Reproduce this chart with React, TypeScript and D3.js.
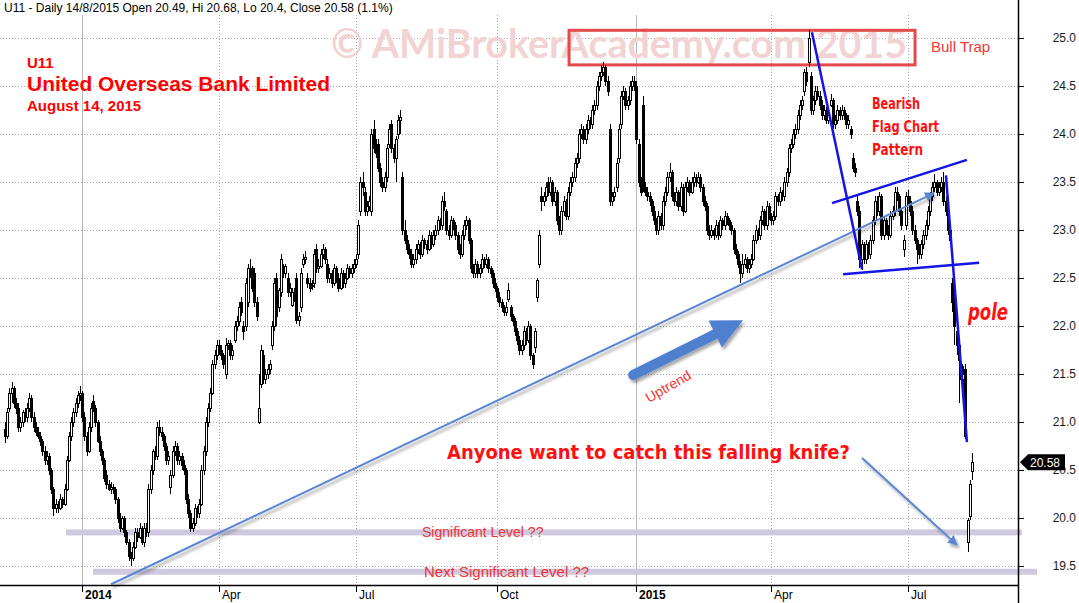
import React from 'react';
import * as d3 from 'd3';

type Bar = [number, number, number, number]; // open, high, low, close

const bars_q4_2013: Bar[] = [
  [20.93,21.0,20.78,20.85],[20.85,21.15,20.82,21.1],[21.15,21.35,21.1,21.3],[21.3,21.42,21.2,21.35],[21.35,21.38,21.15,21.2],
  [21.2,21.25,21.08,21.15],[21.15,21.2,20.9,20.95],[20.95,21.05,20.9,21.0],[21.0,21.12,20.95,21.1],[21.1,21.15,21.0,21.05],
  [21.05,21.2,21.0,21.15],[21.15,21.3,21.1,21.25],[21.25,21.28,21.0,21.05],[21.05,21.1,20.9,20.95],[20.95,21.0,20.85,20.9],
  [20.9,20.95,20.82,20.85],[20.85,20.9,20.75,20.8],[20.8,20.82,20.65,20.7],[20.7,20.75,20.55,20.6],[20.6,20.7,20.55,20.65],
  [20.65,20.68,20.45,20.5],[20.5,20.52,20.25,20.3],[20.3,20.32,20.02,20.1],[20.1,20.2,20.05,20.15],[20.15,20.18,20.05,20.1],
  [20.1,20.25,20.08,20.2],[20.2,20.22,20.1,20.15],[20.15,20.35,20.12,20.3],[20.3,20.65,20.28,20.6],[20.6,20.9,20.58,20.85],
  [20.85,21.05,20.8,21.0],[21.0,21.15,20.95,21.1],[21.1,21.25,21.05,21.2],[21.2,21.32,21.15,21.28],[21.28,21.38,21.22,21.3],
];
const bars_q1_2014: Bar[] = [
  [21.3,21.32,21.0,21.05],[21.05,21.1,20.8,20.85],[20.85,20.9,20.65,20.7],[20.7,21.0,20.68,20.95],[20.95,21.2,20.9,21.15],
  [21.22,21.28,21.1,21.15],[21.15,21.18,20.95,21.0],[21.0,21.02,20.78,20.8],[20.8,20.85,20.65,20.7],[20.7,20.72,20.55,20.6],
  [20.6,20.62,20.38,20.42],[20.45,20.5,20.3,20.35],[20.35,20.4,20.28,20.3],[20.3,20.38,20.25,20.32],[20.32,20.35,20.25,20.3],
  [20.3,20.32,20.15,20.2],[20.2,20.22,19.95,20.0],[20.0,20.05,19.85,19.9],[19.9,20.02,19.88,20.0],[20.0,20.02,19.8,19.85],
  [19.85,19.88,19.72,19.75],[19.75,19.78,19.55,19.6],[19.6,19.65,19.5,19.58],[19.58,19.75,19.55,19.7],[19.7,19.9,19.68,19.85],
  [19.85,19.9,19.75,19.8],[19.8,19.95,19.78,19.9],[19.9,19.92,19.72,19.75],[19.75,19.95,19.7,19.9],[19.9,19.95,19.8,19.85],
  [19.85,20.35,19.8,20.3],[20.3,20.55,20.25,20.5],[20.5,20.72,20.45,20.7],[20.7,20.75,20.6,20.65],[20.65,21.0,20.6,20.95],
  [20.95,21.02,20.85,20.9],[20.9,20.95,20.8,20.85],[20.85,20.88,20.7,20.75],[20.75,20.78,20.55,20.6],[20.6,20.7,20.55,20.65],
  [20.32,20.5,20.25,20.45],[20.45,20.75,20.42,20.7],[20.7,20.8,20.65,20.75],[20.75,20.78,20.55,20.6],[20.6,20.7,20.55,20.65],
  [20.65,20.68,20.5,20.55],[20.55,20.6,20.45,20.5],[20.5,20.52,20.15,20.2],[20.2,20.25,20.0,20.05],[20.05,20.08,19.85,19.9],
  [19.9,20.0,19.85,19.95],[19.95,20.15,19.92,20.1],[20.1,20.12,20.0,20.05],[20.05,20.2,20.0,20.15],[20.15,20.55,20.12,20.5],
  [20.5,20.75,20.45,20.7],[20.7,21.05,20.65,21.0],[21.0,21.2,20.95,21.15],[21.15,21.35,21.1,21.3],[21.3,21.65,21.28,21.6],
  [21.6,21.75,21.55,21.7],[21.7,21.85,21.65,21.8],
];
const bars_q2_2014: Bar[] = [
  [21.8,21.85,21.7,21.75],[21.75,21.8,21.65,21.7],[21.7,21.72,21.55,21.6],[21.5,21.88,21.45,21.8],[21.8,21.85,21.75,21.82],
  [21.82,21.85,21.65,21.7],[21.7,21.8,21.65,21.75],[21.85,22.05,21.82,22.0],[22.0,22.1,21.95,22.05],[22.05,22.25,22.0,22.2],
  [22.25,22.3,22.1,22.15],[22.0,22.05,21.85,21.95],[22.0,22.5,21.95,22.45],[22.25,22.65,22.2,22.6],[22.6,22.7,22.5,22.6],
  [22.6,22.62,22.35,22.4],[22.55,22.6,22.2,22.25],[22.25,22.3,22.05,22.1],[21.0,21.5,20.98,21.15],[21.4,21.8,21.35,21.75],
  [21.7,21.75,21.4,21.45],[21.45,21.55,21.4,21.5],[21.5,21.6,21.45,21.55],[21.55,21.65,21.5,21.6],[21.8,22.05,21.75,22.0],
  [22.0,22.5,21.95,22.45],[22.5,22.55,22.0,22.1],[22.2,22.4,22.15,22.37],[22.35,22.75,22.3,22.7],[22.6,22.65,22.5,22.55],
  [22.55,22.65,22.5,22.62],[22.5,22.55,22.3,22.35],[22.35,22.45,22.3,22.4],[22.22,22.4,22.2,22.35],[22.35,22.4,22.25,22.3],
  [22.5,22.55,22.02,22.06],[22.06,22.15,22.0,22.1],[22.2,22.6,22.15,22.55],[22.65,22.75,22.6,22.7],[22.7,22.78,22.65,22.72],
  [22.5,22.55,22.4,22.45],[22.45,22.5,22.35,22.4],[22.42,22.48,22.38,22.43],[22.45,22.8,22.4,22.75],[22.8,22.85,22.55,22.6],
  [22.6,22.7,22.55,22.62],[22.62,22.8,22.6,22.75],[22.75,22.85,22.7,22.8],[22.8,22.82,22.65,22.7],[22.65,22.7,22.45,22.5],
  [22.5,22.6,22.45,22.55],[22.55,22.58,22.4,22.45],[22.45,22.65,22.42,22.6],[22.6,22.62,22.45,22.5],[22.5,22.55,22.35,22.4],
  [22.4,22.6,22.38,22.55],[22.55,22.58,22.4,22.45],[22.45,22.55,22.4,22.5],[22.5,22.65,22.48,22.6],[22.6,22.62,22.5,22.55],
  [22.55,22.65,22.5,22.6],[22.6,22.7,22.55,22.65],
];
const bars_q3_2014: Bar[] = [
  [22.65,22.75,22.6,22.7],[22.75,23.1,22.7,23.05],[23.2,23.55,23.15,23.5],[23.5,23.6,23.35,23.45],[23.4,23.45,23.15,23.2],
  [23.2,23.3,23.15,23.25],[23.25,23.35,23.2,23.3],[23.2,24.05,23.15,24.0],[24.05,24.15,23.8,23.85],[23.85,23.95,23.75,23.8],
  [23.9,23.95,23.6,23.65],[23.65,23.7,23.45,23.5],[23.5,23.55,23.4,23.45],[23.45,23.6,23.4,23.55],[23.55,23.9,23.5,23.85],
  [23.9,24.1,23.85,24.05],[24.1,24.15,23.8,23.85],[23.85,23.9,23.7,23.75],[23.75,23.98,23.5,23.95],[24.0,24.2,23.95,24.15],
  [24.15,24.25,24.0,24.18],[23.55,23.6,22.95,23.0],[23.0,23.1,22.85,22.9],[22.9,22.95,22.75,22.8],[22.8,22.85,22.7,22.75],
  [22.75,22.8,22.6,22.65],[22.65,22.75,22.6,22.7],[22.7,22.85,22.65,22.8],[22.8,22.9,22.75,22.85],[22.85,22.88,22.7,22.75],
  [22.75,22.95,22.72,22.9],[22.9,22.92,22.8,22.85],[22.85,22.9,22.75,22.8],[22.8,23.0,22.78,22.95],[22.95,22.98,22.8,22.85],
  [22.85,23.0,22.82,22.95],[22.95,23.05,22.9,23.0],[23.0,23.15,22.95,23.1],[23.1,23.12,23.0,23.05],[23.05,23.35,23.0,23.3],
  [23.3,23.4,23.2,23.25],[23.2,23.22,22.95,23.0],[23.0,23.05,22.9,22.95],[22.95,23.15,22.92,23.1],[23.1,23.12,23.0,23.05],
  [23.05,23.08,22.9,22.95],[22.95,22.98,22.75,22.8],[22.8,22.85,22.7,22.75],[22.75,23.0,22.72,22.95],[22.95,23.1,22.9,23.05],
  [23.05,23.15,23.0,23.1],[23.1,23.12,22.85,22.9],[22.9,22.92,22.55,22.6],[22.6,22.65,22.5,22.55],[22.55,22.7,22.5,22.65],
  [22.65,22.68,22.5,22.55],[22.55,22.65,22.5,22.6],[22.6,22.75,22.55,22.7],[22.7,22.72,22.6,22.65],[22.65,22.75,22.6,22.7],
  [22.7,22.72,22.55,22.6],[22.6,22.62,22.5,22.55],[22.55,22.58,22.4,22.45],[22.45,22.5,22.35,22.4],
];
const bars_q4_2014: Bar[] = [
  [22.4,22.42,22.25,22.3],[22.3,22.35,22.2,22.25],[22.25,22.28,22.15,22.2],[22.2,22.22,22.1,22.15],[22.15,22.25,22.1,22.2],
  [22.28,22.45,22.25,22.38],[22.2,22.22,22.05,22.1],[22.1,22.12,22.0,22.05],[22.05,22.08,21.9,21.95],[21.95,21.98,21.8,21.85],
  [21.85,21.9,21.7,21.75],[21.75,21.85,21.7,21.8],[21.8,22.0,21.75,21.95],[21.95,21.98,21.8,21.85],[21.85,22.05,21.82,22.0],
  [22.0,22.02,21.65,21.7],[21.7,21.72,21.55,21.6],[21.78,21.98,21.72,21.95],[22.3,22.5,22.25,22.48],[22.65,23.0,22.6,22.95],
  [23.35,23.45,23.2,23.3],[23.3,23.4,23.25,23.35],[23.35,23.5,23.3,23.45],[23.5,23.55,23.35,23.4],[23.4,23.55,23.35,23.5],
  [23.5,23.52,23.25,23.3],[23.3,23.45,23.25,23.4],[23.4,23.42,23.05,23.1],[23.1,23.15,22.95,23.0],[23.0,23.25,22.95,23.2],
  [23.2,23.35,23.15,23.3],[23.3,23.32,23.1,23.15],[23.15,23.45,23.1,23.4],[23.4,23.55,23.35,23.5],[23.5,23.6,23.45,23.55],
  [23.55,23.75,23.5,23.7],[23.7,23.8,23.65,23.75],[23.75,24.05,23.7,24.0],[24.0,24.1,23.95,24.05],[24.05,24.08,23.9,23.95],
  [23.95,24.1,23.9,24.05],[24.05,24.2,24.0,24.15],[24.15,24.18,24.05,24.1],[24.1,24.3,24.05,24.25],[24.25,24.35,24.2,24.3],
  [24.3,24.55,24.25,24.5],[24.5,24.65,24.45,24.6],[24.6,24.72,24.55,24.65],[24.65,24.75,24.6,24.7],[24.7,24.72,24.5,24.55],
  [24.55,24.6,24.4,24.45],[24.05,24.1,23.25,23.3],[23.3,23.4,23.25,23.35],[23.35,23.45,23.3,23.4],[23.45,23.75,23.4,23.7],
  [23.75,24.1,23.7,24.05],[24.1,24.45,24.05,24.4],[24.4,24.5,24.35,24.45],[24.45,24.48,24.25,24.3],[24.3,24.4,24.25,24.35],
  [24.35,24.55,24.3,24.5],[24.5,24.6,24.45,24.55],[24.55,24.6,24.45,24.5],
];
const bars_q1_2015: Bar[] = [
  [24.5,24.55,23.9,23.95],[23.9,23.95,23.45,23.5],[23.5,23.55,23.35,23.4],[24.3,24.4,23.4,23.45],[23.45,23.5,23.35,23.4],
  [23.4,23.45,23.3,23.35],[23.35,23.4,23.25,23.3],[23.3,23.32,23.15,23.2],[23.2,23.25,23.05,23.1],[23.1,23.12,22.95,23.0],
  [23.0,23.2,22.95,23.15],[23.15,23.18,23.0,23.05],[23.05,23.35,23.0,23.3],[23.3,23.45,23.25,23.4],[23.4,23.6,23.35,23.55],
  [23.55,23.7,23.5,23.6],[23.6,23.62,23.3,23.35],[23.35,23.4,23.25,23.3],[23.3,23.45,23.25,23.4],[23.4,23.42,23.2,23.25],
  [23.25,23.5,23.2,23.45],[23.45,23.48,23.15,23.2],[23.2,23.5,23.18,23.45],[23.45,23.55,23.4,23.5],[23.5,23.52,23.35,23.4],
  [23.4,23.55,23.38,23.5],[23.5,23.6,23.45,23.55],[23.55,23.58,23.45,23.5],[23.5,23.6,23.48,23.55],[23.55,23.58,23.4,23.45],
  [23.45,23.48,23.25,23.3],[23.3,23.35,23.2,23.25],[23.25,23.28,22.95,23.0],[23.0,23.05,22.9,22.95],[22.95,23.05,22.92,23.0],
  [23.0,23.02,22.9,22.95],[22.95,23.1,22.92,23.05],[23.05,23.08,22.9,22.95],[22.95,23.15,22.92,23.1],[23.1,23.12,23.0,23.05],
  [23.05,23.2,23.0,23.15],[23.15,23.18,23.05,23.1],[23.1,23.12,23.0,23.05],[23.05,23.08,22.95,23.0],[23.0,23.02,22.75,22.8],
  [22.8,22.85,22.7,22.75],[22.75,22.78,22.6,22.65],[22.65,22.68,22.45,22.55],[22.55,22.75,22.5,22.65],[22.65,22.75,22.6,22.7],
  [22.7,22.72,22.55,22.6],[22.6,22.7,22.55,22.65],[22.65,22.75,22.6,22.7],[22.7,22.95,22.68,22.9],[22.9,23.05,22.85,23.0],
  [23.0,23.02,22.9,22.95],[22.95,23.15,22.9,23.1],[23.1,23.25,23.05,23.2],[23.2,23.22,23.0,23.05],[23.05,23.3,23.0,23.25],
  [23.25,23.28,23.1,23.15],
];
const bars_q2_2015: Bar[] = [
  [23.15,23.18,23.05,23.1],[23.1,23.2,23.05,23.15],[23.15,23.4,23.1,23.35],[23.35,23.38,23.25,23.3],[23.3,23.45,23.25,23.4],
  [23.4,23.42,23.3,23.35],[23.35,23.55,23.3,23.5],[23.5,23.65,23.45,23.6],[23.6,23.9,23.55,23.85],[23.85,23.95,23.8,23.9],
  [23.9,24.05,23.85,24.0],[24.0,24.1,23.95,24.05],[24.05,24.25,24.0,24.2],[24.2,24.35,24.15,24.3],[24.3,24.4,24.25,24.35],
  [24.45,24.68,24.4,24.65],[24.65,24.7,24.5,24.55],[24.75,25.08,24.7,25.0],[24.6,24.65,24.2,24.25],[24.25,24.4,24.2,24.35],
  [24.35,24.5,24.3,24.45],[24.45,24.5,24.35,24.4],[24.4,24.45,24.25,24.3],[24.3,24.35,24.15,24.2],[24.2,24.3,24.15,24.25],
  [24.25,24.28,24.1,24.15],[24.15,24.25,24.1,24.2],[24.3,24.42,24.28,24.35],[24.35,24.38,24.05,24.1],[24.1,24.2,24.05,24.15],
  [24.15,24.3,24.1,24.25],[24.25,24.28,24.15,24.2],[24.2,24.3,24.15,24.25],[24.25,24.28,24.15,24.2],[24.2,24.22,24.05,24.1],
  [24.1,24.2,24.05,24.15],[24.05,24.08,23.95,24.0],[23.75,23.8,23.6,23.65],[23.65,23.7,23.55,23.6],[23.3,23.35,23.15,23.2],
  [23.2,23.25,22.6,22.7],[22.7,22.9,22.58,22.85],[22.85,22.88,22.65,22.7],[22.7,22.9,22.65,22.85],[22.85,22.88,22.7,22.75],
  [22.75,22.95,22.7,22.9],[22.9,23.15,22.85,23.1],[23.1,23.35,23.05,23.3],[23.3,23.35,23.15,23.2],[23.2,23.4,23.15,23.35],
  [23.35,23.38,22.9,22.95],[22.95,23.15,22.9,23.1],[23.1,23.12,22.95,23.0],[23.0,23.05,22.9,22.95],[22.95,23.2,22.92,23.15],
  [23.15,23.25,23.1,23.2],[23.2,23.45,23.15,23.4],[23.4,23.45,23.3,23.35],[23.35,23.38,23.15,23.2],[23.2,23.22,23.0,23.05],
  [22.8,22.95,22.72,22.9],[23.05,23.4,23.0,23.35],
];
const bars_q3_2015: Bar[] = [
  [23.35,23.42,23.25,23.3],[23.3,23.35,23.15,23.2],[23.2,23.25,22.95,23.0],[23.0,23.05,22.85,22.9],[22.9,22.92,22.65,22.8],
  [22.8,22.85,22.7,22.75],[22.75,22.9,22.7,22.85],[22.85,23.0,22.8,22.95],[22.95,23.1,22.9,23.05],[23.05,23.25,23.0,23.2],
  [23.2,23.4,23.15,23.35],[23.35,23.5,23.3,23.45],[23.45,23.58,23.4,23.5],[23.5,23.52,23.35,23.4],[23.4,23.5,23.35,23.45],
  [23.45,23.55,23.4,23.5],[23.5,23.6,23.25,23.3],[23.3,23.35,23.15,23.2],[23.2,23.22,22.95,23.0],[23.0,23.05,22.85,22.9],
  [22.45,22.5,22.15,22.25],[22.3,22.35,21.8,22.0],[21.95,22.0,21.7,21.8],[21.8,21.85,21.2,21.65],[21.6,21.62,21.4,21.45],
  [21.45,21.58,21.35,21.5],[21.55,21.6,20.82,20.85],[19.75,20.0,19.65,19.98],[20.02,20.4,19.98,20.35],[20.49,20.68,20.4,20.58],
];

const allBars: Bar[] = [
  ...bars_q4_2013, ...bars_q1_2014, ...bars_q2_2014, ...bars_q3_2014,
  ...bars_q4_2014, ...bars_q1_2015, ...bars_q2_2015, ...bars_q3_2015,
];

const lastTradingDay = '2015-08-14';
const holidays = [
  '2013-12-25','2014-01-01','2014-01-31','2014-04-18','2014-05-01','2014-05-13','2014-07-28',
  '2014-08-11','2014-10-06','2014-10-22','2014-12-25','2015-01-01','2015-02-19','2015-02-20',
  '2015-04-03','2015-05-01','2015-06-01','2015-07-17','2015-08-07','2015-08-10',
];

const priceTicks = [19.5, 20.0, 20.5, 21.0, 21.5, 22.0, 22.5, 23.0, 23.5, 24.0, 24.5, 25.0];
const lastClose = 20.58;

// significant levels: [price, start bar index, end bar index]
const sigLevelPrices = [19.85, 19.44];
const sigLevelStart = [27.7, 39.9];
const sigLevelEnd = [460.6, 467.5];
const sigLevelLabels = ['Significant Level ??', 'Next Significant Level ??'];

// annotation lines, [bar index, price]
const uptrendLine: [number, number][] = [[48.1, 19.31], [420.8, 23.385]];
const flagLines: [number, number][][] = [
  [[365.5, 25.06], [388.2, 22.59]],
  [[374.6, 23.28], [435.7, 23.73]],
  [[379.6, 22.54], [441.2, 22.66]],
  [[426.2, 23.57], [435.7, 20.79]],
];
const bigArrow: [number, number][] = [[284.5, 21.49], [334.3, 22.06]];
const knifeArrow: [number, number][] = [[388.2, 20.625], [431.2, 19.72]];
const bullTrapBox: [number, number][] = [[255.5, 25.08], [412.2, 24.72]];

const W = 1079, H = 603;
const AXIS_X = 1018, AXIS_Y = 585;

function buildDates(n: number): Date[] {
  const hol = new Set(holidays);
  const fmt = d3.timeFormat('%Y-%m-%d');
  const out: Date[] = [];
  let d = d3.timeParse('%Y-%m-%d')(lastTradingDay) as Date;
  while (out.length < n) {
    const wd = d.getDay();
    if (wd !== 0 && wd !== 6 && !hol.has(fmt(d))) out.unshift(new Date(d));
    d = d3.timeDay.offset(d, -1);
  }
  return out;
}

export default function App() {
  const N = allBars.length;
  const dates = buildDates(N);
  const x = d3.scaleLinear().domain([0, N - 1]).range([4.9, 972]);
  const y = d3.scaleLinear().domain([19.5, 25]).range([566, 38]);

  const ticks = dates
    .map((d, i) => ({ d, i }))
    .filter(({ d, i }) => i > 0 && d.getMonth() !== dates[i - 1].getMonth() && d.getMonth() % 3 === 0)
    .map(({ d, i }) => ({
      i,
      year: d.getMonth() === 0,
      label: d.getMonth() === 0 ? String(d.getFullYear()) : d3.timeFormat('%b')(d),
    }));

  const pt = (p: [number, number]) => [x(p[0]), y(p[1])] as [number, number];

  // big arrow geometry
  const [S, T] = bigArrow.map(pt);
  const dx = T[0] - S[0], dy = T[1] - S[1];
  const len = Math.hypot(dx, dy);
  const ux = dx / len, uy = dy / len;
  const nx = -uy, ny = ux;
  const headLen = 31, headHalf = 15;
  const B: [number, number] = [T[0] - headLen * ux, T[1] - headLen * uy];
  const headPts = [
    [T[0], T[1]],
    [B[0] + headHalf * nx, B[1] + headHalf * ny],
    [B[0] - headHalf * nx, B[1] - headHalf * ny],
  ];

  const tp = pt(bullTrapBox[0]);
  const bp = pt(bullTrapBox[1]);

  const yLast = y(lastClose);
  const redFont = 'Liberation Sans, Arial, sans-serif';
  const comic = 'DejaVu Sans, sans-serif';

  return (
    <svg width={W} height={H} style={{ position: 'absolute', left: 0, top: 0, background: '#fff' }}
      fontFamily="Liberation Sans, Arial, sans-serif">
      <defs>
        <filter id="sh" x="-10%" y="-10%" width="130%" height="140%">
          <feDropShadow dx="2" dy="3" stdDeviation="1.6" floodColor="#000" floodOpacity="0.35" />
        </filter>
        <marker id="ahLight" viewBox="0 0 10 10" refX="9" refY="5" markerWidth="5" markerHeight="5" orient="auto">
          <path d="M0,0 L10,5 L0,10 z" fill="#5b86d4" />
        </marker>
      </defs>
      <rect x={0} y={0} width={W} height={H} fill="#fff" />

      {/* grid */}
      {priceTicks.map(v => (
        <line key={'hg' + v} x1={0} x2={AXIS_X} y1={Math.round(y(v)) + 0.5} y2={Math.round(y(v)) + 0.5}
          stroke="#a9a9a9" strokeDasharray="1,2" />
      ))}
      {ticks.map(t => (
        <line key={'vg' + t.i} x1={Math.round(x(t.i)) + 0.5} x2={Math.round(x(t.i)) + 0.5} y1={15} y2={AXIS_Y}
          stroke={t.year ? '#b8b8b8' : '#a9a9a9'} strokeDasharray={t.year ? undefined : '1,2'} />
      ))}

      {/* watermark */}
      <text x={331} y={58} fontFamily="Lato, DejaVu Sans, sans-serif" fontWeight={700} fontSize={40}
        fill="#f2d3d3" textLength={576} lengthAdjust="spacingAndGlyphs">© AMiBrokerAcademy.com 2015</text>

      {/* bull trap box */}
      <rect x={tp[0]} y={tp[1]} width={bp[0] - tp[0]} height={bp[1] - tp[1]} fill="none" stroke="#e44a4a" strokeWidth={3} />

      {/* significant level bands */}
      {sigLevelPrices.map((p, k) => (
        <rect key={'band' + k} x={x(sigLevelStart[k])} width={x(sigLevelEnd[k]) - x(sigLevelStart[k])}
          y={y(p) - 3} height={6} fill="#cfc8df" />
      ))}

      {/* candles */}
      {allBars.map((b, i) => {
        const [o, h, l, c] = b;
        const cx = Math.round(x(i));
        const up = c >= o;
        const yt = Math.round(y(Math.max(o, c)));
        const yb = Math.round(y(Math.min(o, c)));
        return (
          <g key={i}>
            <line x1={cx + 0.5} x2={cx + 0.5} y1={Math.round(y(h))} y2={Math.round(y(l))} stroke="#000" />
            <rect x={cx - 0.5} y={yt + 0.5} width={2} height={Math.max(1, yb - yt)}
              fill={up ? '#fff' : '#000'} stroke="#000" />
          </g>
        );
      })}

      {/* uptrend line */}
      <line x1={pt(uptrendLine[0])[0]} y1={pt(uptrendLine[0])[1]} x2={pt(uptrendLine[1])[0]} y2={pt(uptrendLine[1])[1]}
        stroke="#5b86d4" strokeWidth={2} markerEnd="url(#ahLight)" filter="url(#sh)" />

      {/* flag lines */}
      {flagLines.map((ln, k) => {
        const a = pt(ln[0]), b = pt(ln[1]);
        return <line key={'fl' + k} x1={a[0]} y1={a[1]} x2={b[0]} y2={b[1]} stroke="#1414e6" strokeWidth={2.5} />;
      })}

      {/* big arrow */}
      <g filter="url(#sh)">
        <line x1={S[0]} y1={S[1]} x2={B[0] + 3 * ux} y2={B[1] + 3 * uy} stroke="#4f7fcf" strokeWidth={10} strokeLinecap="round" />
        <polygon points={headPts.map(p => p.join(',')).join(' ')} fill="#4f7fcf" />
      </g>

      {/* knife arrow */}
      <line x1={pt(knifeArrow[0])[0]} y1={pt(knifeArrow[0])[1]} x2={pt(knifeArrow[1])[0]} y2={pt(knifeArrow[1])[1]}
        stroke="#5b86d4" strokeWidth={2} markerEnd="url(#ahLight)" filter="url(#sh)" />

      {/* axes */}
      <line x1={AXIS_X + 0.5} x2={AXIS_X + 0.5} y1={0} y2={H} stroke="#000" strokeWidth={1.5} />
      <line x1={0} x2={AXIS_X} y1={AXIS_Y + 0.5} y2={AXIS_Y + 0.5} stroke="#000" strokeWidth={1.5} />
      {priceTicks.map(v => (
        <g key={'yt' + v}>
          <line x1={AXIS_X} x2={AXIS_X + 6} y1={Math.round(y(v)) + 0.5} y2={Math.round(y(v)) + 0.5} stroke="#000" />
          <text x={1076} y={y(v)} dy="0.35em" textAnchor="end" fontSize={12} fill="#1a1a1a">{v.toFixed(1)}</text>
        </g>
      ))}
      {ticks.map(t => (
        <g key={'xt' + t.i}>
          <line x1={Math.round(x(t.i)) + 0.5} x2={Math.round(x(t.i)) + 0.5} y1={AXIS_Y} y2={AXIS_Y + 7} stroke="#000" />
          <text x={Math.round(x(t.i)) + 3} y={599} fontSize={12} fontWeight={t.year ? 700 : 400} fill="#000">{t.label}</text>
        </g>
      ))}

      {/* last price label */}
      <path d={`M${AXIS_X + 2},${yLast} L${AXIS_X + 10},${yLast - 8} L${1065},${yLast - 8} L${1065},${yLast + 8} L${AXIS_X + 10},${yLast + 8} Z`} fill="#000" />
      <text x={1030} y={yLast} dy="0.36em" fontSize={12} fill="#fff">{lastClose.toFixed(2)}</text>

      {/* header */}
      <text x={4} y={12} fontSize={12} fill="#000">U11 - Daily 14/8/2015 Open 20.49, Hi 20.68, Lo 20.4, Close 20.58 (1.1%)</text>

      {/* title */}
      <text x={27} y={68} fontSize={15} fontWeight={700} fill="#ff0000" fontFamily={redFont}>U11</text>
      <text x={27} y={91} fontSize={19.5} fontWeight={700} fill="#ff0000" fontFamily={redFont} textLength={303} lengthAdjust="spacingAndGlyphs">United Overseas Bank Limited</text>
      <text x={27} y={111} fontSize={15} fontWeight={700} fill="#ff0000" fontFamily={redFont}>August 14, 2015</text>

      {/* annotations */}
      <text x={931} y={52} fontSize={15} fill="#f03535">Bull Trap</text>
      <text x={872} y={109} fontSize={15} fontWeight={700} fill="#ff1010" fontFamily={comic} textLength={48} lengthAdjust="spacingAndGlyphs">Bearish</text>
      <text x={872} y={132} fontSize={15} fontWeight={700} fill="#ff1010" fontFamily={comic} textLength={67} lengthAdjust="spacingAndGlyphs">Flag Chart</text>
      <text x={872} y={155} fontSize={15} fontWeight={700} fill="#ff1010" fontFamily={comic} textLength={51} lengthAdjust="spacingAndGlyphs">Pattern</text>
      <text x={968} y={320} fontSize={23} fontWeight={700} fontStyle="italic" fill="#ff1010" fontFamily={comic} textLength={40} lengthAdjust="spacingAndGlyphs">pole</text>
      <text x={447} y={459} fontSize={20} fontWeight={700} fill="#ff1010" fontFamily={comic} textLength={403} lengthAdjust="spacingAndGlyphs">Anyone want to catch this falling knife?</text>
      <text transform="translate(649,403) rotate(-30)" fontSize={14} fill="#f03535">Uptrend</text>
      {sigLevelPrices.map((p, k) => (
        <text key={'sl' + k} x={k === 0 ? 422 : 424} y={y(p) + 5} fontSize={k === 0 ? 14 : 15} fill="#f03535">{sigLevelLabels[k]}</text>
      ))}
    </svg>
  );
}
